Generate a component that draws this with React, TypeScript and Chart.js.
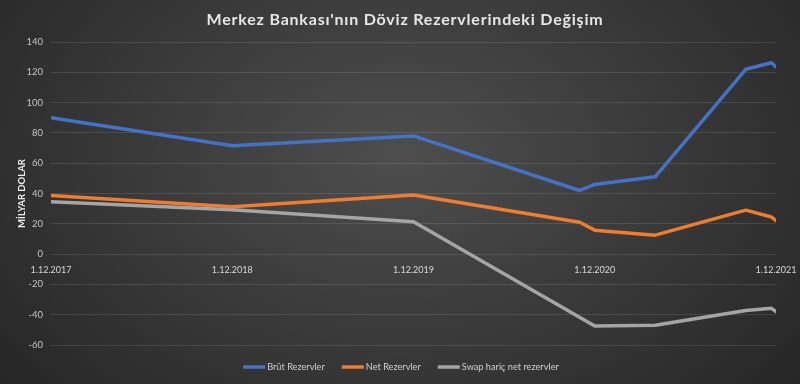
import React, { useEffect, useRef } from "react";
import { Chart, registerables } from "chart.js";

Chart.register(...registerables);

// months since 1.12.2017
const monthIndex = [0, 12, 24, 35, 36, 40, 46, 47.7, 48];
const brut = [90, 71.5, 78, 42, 46, 51, 122, 126.3, 123.5];
const net = [38.7, 31.2, 39, 21, 15.8, 12.5, 29, 24.5, 22];
const swapHaric = [34.5, 29.2, 21.3, null, -47.5, -47, -37.2, -35.8, -38];
const tickLabels = ["1.12.2017", "1.12.2018", "1.12.2019", "1.12.2020", "1.12.2021"];
const seriesNames = ["Brüt Rezervler", "Net Rezervler", "Swap hariç net rezervler"];
const seriesColors = ["#4472C4", "#ED7D31", "#A5A5A5"];
const titleText = "Merkez Bankası'nın Döviz Rezervlerindeki Değişim";

const FONT = "Lato, 'Open Sans', sans-serif";

const titlePlugin = {
  id: "customTitle",
  afterDraw(chart: any) {
    const ctx = chart.ctx as CanvasRenderingContext2D;
    ctx.save();
    ctx.font = `bold 16px ${FONT}`;
    (ctx as any).letterSpacing = "0.8px";
    ctx.fillStyle = "#e6e6e6";
    ctx.textAlign = "center";
    ctx.textBaseline = "middle";
    ctx.fillText(titleText, 405, 20);
    ctx.restore();
  },
};

const legendPlugin = {
  id: "customLegend",
  afterDraw(chart: any) {
    const ctx = chart.ctx as CanvasRenderingContext2D;
    ctx.save();
    ctx.font = `9.2px ${FONT}`;
    const lineW = 22;
    const gapLT = 2;
    const gapItem = 17;
    const ds = chart.data.datasets;
    const widths = ds.map((d: any) => ctx.measureText(d.label).width);
    const total =
      widths.reduce((a: number, w: number) => a + lineW + gapLT + w, 0) + gapItem * (ds.length - 1);
    let x = 401 - total / 2;
    const y = 367;
    ds.forEach((d: any, i: number) => {
      ctx.strokeStyle = d.borderColor;
      ctx.lineWidth = 3.5;
      ctx.lineCap = "butt";
      ctx.beginPath();
      ctx.moveTo(x, y);
      ctx.lineTo(x + lineW, y);
      ctx.stroke();
      x += lineW + gapLT;
      ctx.fillStyle = "#d0d0d0";
      ctx.textAlign = "left";
      ctx.textBaseline = "middle";
      ctx.fillText(d.label, x, y);
      x += widths[i] + gapItem;
    });
    ctx.restore();
  },
};

export default function App() {
  const ref = useRef<HTMLCanvasElement | null>(null);

  useEffect(() => {
    document.body.style.margin = "0";
    const canvas = ref.current;
    if (!canvas) return;
    const mk = (vals: (number | null)[]) => vals.map((v, i) => ({ x: monthIndex[i], y: v }));
    const series = [brut, net, swapHaric];
    const chart = new Chart(canvas, {
      type: "line",
      data: {
        datasets: series.map((vals, i) => ({
          label: seriesNames[i],
          data: mk(vals) as any,
          borderColor: seriesColors[i],
          backgroundColor: seriesColors[i],
          borderWidth: 3.5,
          pointRadius: 0,
          pointHoverRadius: 0,
          tension: 0,
          borderJoinStyle: "round" as const,
          borderCapStyle: "round" as const,
          spanGaps: true,
        })),
      },
      plugins: [titlePlugin, legendPlugin],
      options: {
        animation: false,
        responsive: false,
        maintainAspectRatio: false,
        layout: { padding: { left: 0, right: 24, top: 42, bottom: 39 } },
        plugins: {
          title: { display: false },
          legend: { display: false },
          tooltip: { enabled: false },
        },
        scales: {
          x: {
            type: "linear",
            position: { y: 0 } as any,
            min: 0,
            max: 48,
            grid: { display: false },
            border: { display: false },
            ticks: {
              stepSize: 12,
              autoSkip: false,
              maxRotation: 0,
              color: "#d9d9d9",
              font: { family: FONT, size: 9 },
              padding: 3,
              callback: (v: any) => {
                const i = Math.round(Number(v) / 12);
                return Number(v) % 12 === 0 ? tickLabels[i] : "";
              },
            },
          },
          y: {
            min: -60,
            max: 140,
            afterFit: (s: any) => {
              s.width = 51;
            },
            grid: { color: "rgba(255,255,255,0.11)", drawTicks: false },
            border: { display: false },
            ticks: {
              stepSize: 20,
              color: "#c4c4c4",
              font: { family: FONT, size: 9.5 },
              padding: 8,
            },
            title: {
              display: true,
              text: "MİLYAR DOLAR",
              color: "#eeeeee",
              font: { family: FONT, size: 9.5, weight: "bold" },
              padding: { top: 16, bottom: 0 },
            },
          },
        },
      },
    });
    return () => chart.destroy();
  }, []);

  return (
    <div
      style={{
        width: 800,
        height: 384,
        background:
          "radial-gradient(ellipse 65% 95% at 50% 40%, #4e4e4e 0%, #3c3c3c 45%, #262626 100%)",
      }}
    >
      <canvas ref={ref} width={800} height={384} style={{ display: "block" }} />
    </div>
  );
}
